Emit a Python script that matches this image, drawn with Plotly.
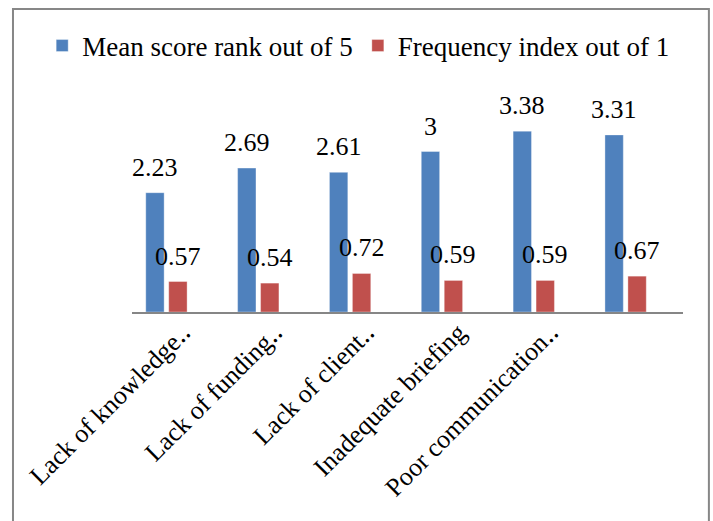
import plotly.graph_objects as go

categories = ["Lack of knowledge‥", "Lack of funding‥", "Lack of client‥",
              "Inadequate briefing", "Poor communication‥", ""]
mean_score = [2.23, 2.69, 2.61, 3.00, 3.38, 3.31]
freq_index = [0.57, 0.54, 0.72, 0.59, 0.59, 0.67]
series_names = ["Mean score rank out of 5", "Frequency index out of 1"]

BLUE = "#4F81BD"
RED = "#C0504D"
FONT = "Liberation Serif"
FS = 26

xs = list(range(len(categories)))

fig = go.Figure()
fig.add_trace(go.Bar(x=xs, y=mean_score, name=series_names[0],
                     marker=dict(color=BLUE, line=dict(color="rgba(255,255,255,0.35)", width=1)),
                     offset=-0.35, width=0.2))
fig.add_trace(go.Bar(x=xs, y=freq_index, name=series_names[1],
                     marker=dict(color=RED, line=dict(color="rgba(255,255,255,0.35)", width=1)),
                     offset=-0.10, width=0.2))

for vals, shift in ((mean_score, -0.25), (freq_index, 0.0)):
    for i, v in enumerate(vals):
        fig.add_annotation(x=i + shift, y=v, text=f"{v:g}", showarrow=False,
                           yanchor="bottom", xanchor="center", yshift=9,
                           font=dict(family=FONT, size=FS, color="black"))

# outer chart border
fig.add_shape(type="rect", xref="paper", yref="paper",
              x0=-0.216, x1=1.047, y0=-1.08, y1=1.416,
              line=dict(color="#878787", width=2), fillcolor="rgba(0,0,0,0)", layer="below")

fig.update_layout(
    width=713, height=521,
    margin=dict(l=132, r=30, t=98, b=209, autoexpand=False),
    paper_bgcolor="white", plot_bgcolor="white",
    font=dict(family=FONT, size=FS, color="black"),
    barmode="overlay",
    showlegend=True,
    legend=dict(orientation="h", x=-0.163, xanchor="left", y=1.243, yanchor="middle",
                font=dict(family=FONT, size=27, color="black"),
                bgcolor="rgba(0,0,0,0)", traceorder="normal", itemwidth=30),
    xaxis=dict(range=[-0.5, 5.5], tickmode="array", tickvals=xs, ticktext=categories,
               tickangle=-45, showline=True, linecolor="#868686", linewidth=2,
               ticks="", showgrid=False, zeroline=False, automargin=False,
               ticklabelstandoff=-7, ticklabelshift=5,
               tickfont=dict(family=FONT, size=FS, color="black")),
    yaxis=dict(range=[0, 4], visible=False, showgrid=False, zeroline=False),
)

fig.write_html("out.html", config={"displayModeBar": False},
               post_script="document.body.style.margin='0';document.body.style.overflow='hidden';")
